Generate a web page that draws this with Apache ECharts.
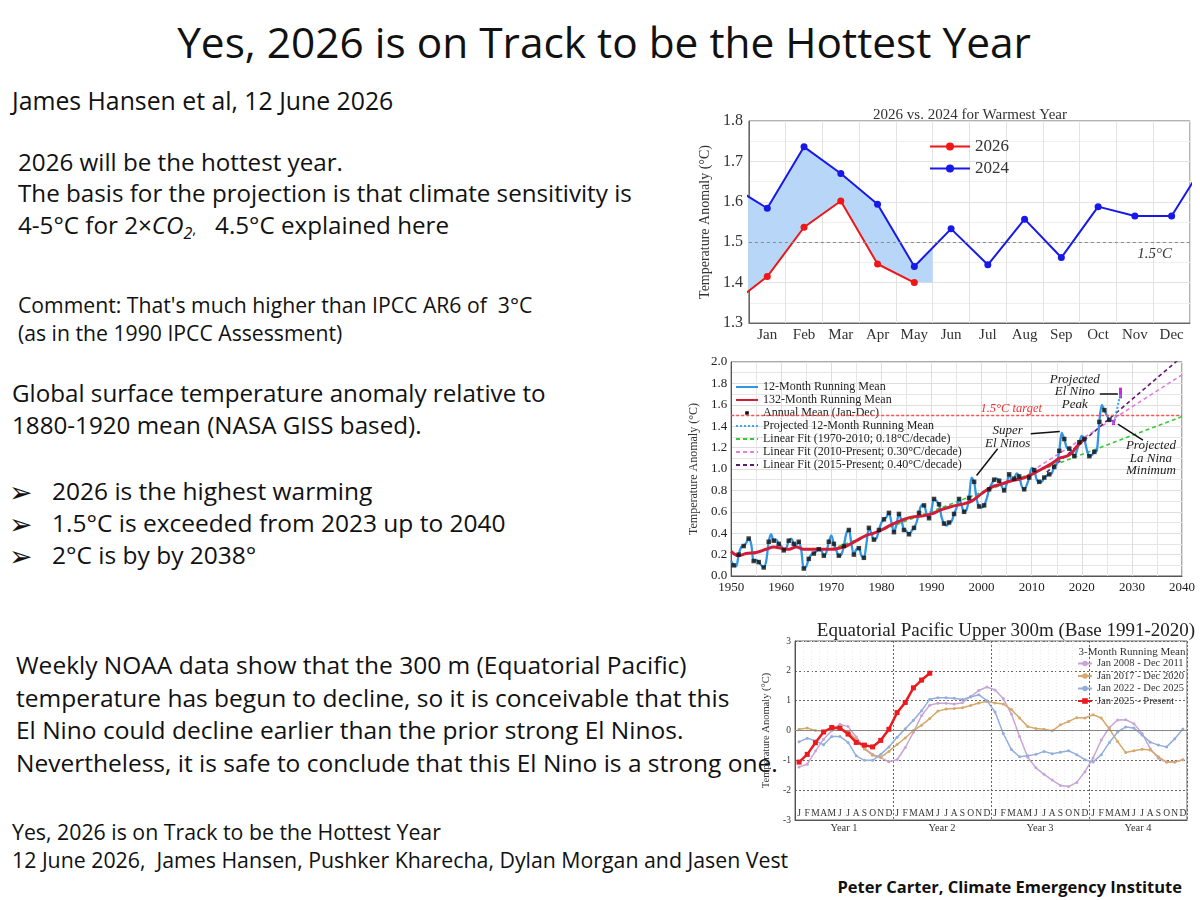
<!DOCTYPE html>
<html>
<head>
<meta charset="utf-8">
<title>Yes, 2026 is on Track to be the Hottest Year</title>
<script src="https://cdn.jsdelivr.net/npm/echarts@6/dist/echarts.min.js"></script>
<style>
  html, body { margin: 0; padding: 0; background: #fff; }
  #slide { position: relative; width: 1200px; height: 900px; overflow: hidden;
           font-family: 'Open Sans', 'Noto Sans', sans-serif; color: #111; }
  .t { position: absolute; white-space: nowrap; line-height: 1; transform: translateY(-50%); }
  .chart { position: absolute; }
</style>
</head>
<body>
<div id="slide">
  <div class="t" style="left:0;width:1208px;text-align:center;top:42px;font-size:42.4px;">Yes, 2026 is on Track to be the Hottest Year</div>
  <div class="t" style="left:12px;top:100px;font-size:24.8px;">James Hansen et al, 12 June 2026</div>

  <div class="t" style="left:18px;top:162px;font-size:24.2px;">2026 will be the hottest year.</div>
  <div class="t" style="left:18px;top:193px;font-size:24.2px;">The basis for the projection is that climate sensitivity is</div>
  <div class="t" style="left:18px;top:227px;font-size:24.2px;">4-5°C for 2×<i>CO<sub style="font-size:16px;">2</sub></i><span style="font-size:15px;">,</span>&nbsp;&nbsp;&nbsp;4.5°C explained here</div>

  <div class="t" style="left:18px;top:305px;font-size:21.2px;">Comment: That's much higher than IPCC AR6 of &nbsp;3°C</div>
  <div class="t" style="left:18px;top:333px;font-size:21.2px;">(as in the 1990 IPCC Assessment)</div>

  <div class="t" style="left:12px;top:393px;font-size:24.2px;">Global surface temperature anomaly relative to</div>
  <div class="t" style="left:12px;top:425px;font-size:24.2px;">1880-1920 mean (NASA GISS based).</div>

  <div class="t" style="left:9px;top:491px;font-size:28px;">➢</div>
  <div class="t" style="left:52px;top:491px;font-size:24.5px;">2026 is the highest warming</div>
  <div class="t" style="left:9px;top:523px;font-size:28px;">➢</div>
  <div class="t" style="left:52px;top:523px;font-size:24.5px;">1.5°C is exceeded from 2023 up to 2040</div>
  <div class="t" style="left:9px;top:555px;font-size:28px;">➢</div>
  <div class="t" style="left:52px;top:555px;font-size:24.5px;">2°C is by by 2038°</div>

  <div class="t" style="left:16px;top:665px;font-size:24.5px;">Weekly NOAA data show that the 300 m (Equatorial Pacific)</div>
  <div class="t" style="left:16px;top:698px;font-size:24.5px;">temperature has begun to decline, so it is conceivable that this</div>
  <div class="t" style="left:16px;top:730px;font-size:24.5px;">El Nino could decline earlier than the prior strong El Ninos.</div>
  <div class="t" style="left:16px;top:763px;font-size:24.5px;">Nevertheless, it is safe to conclude that this El Nino is a strong one.</div>

  <div class="t" style="left:12px;top:832px;font-size:21.3px;">Yes, 2026 is on Track to be the Hottest Year</div>
  <div class="t" style="left:12px;top:860px;font-size:21.3px;">12 June 2026, &nbsp;James Hansen, Pushker Kharecha, Dylan Morgan and Jasen Vest</div>
  <div class="t" style="right:18px;top:887px;font-size:16.5px;font-weight:bold;">Peter Carter, Climate Emergency Institute</div>

  <div id="chartA" class="chart" style="left:690px;top:100px;width:510px;height:245px;"></div>
  <div id="chartB" class="chart" style="left:680px;top:352px;width:520px;height:250px;"></div>
  <div id="chartC" class="chart" style="left:750px;top:608px;width:450px;height:272px;"></div>
</div>

<script>
// ---- chart A: 2026 vs 2024, monthly anomaly (index 0 = Dec of prior year, 13 = Jan of next year)
var topMonths = ['Jan', 'Feb', 'Mar', 'Apr', 'May', 'Jun', 'Jul', 'Aug', 'Sep', 'Oct', 'Nov', 'Dec'];
var y2024 = [1.64, 1.584, 1.736, 1.670, 1.594, 1.440, 1.533, 1.444, 1.557, 1.462, 1.588, 1.565, 1.565, 1.71];
var y2026 = [1.345, 1.415, 1.537, 1.602, 1.446, 1.400];
// shaded gap between the two years
var gapX = [0, 1, 2, 3, 4, 5, 5.5];
var gapTop = [1.64, 1.584, 1.736, 1.670, 1.594, 1.440, 1.487];
var gapBase = [1.345, 1.415, 1.537, 1.602, 1.446, 1.400, 1.400];

// ---- chart B: GISS based global temperature
var run12 = [
  [1950.0,0.14],[1950.5,0.10],[1951.0,0.09],[1951.5,0.20],[1952.0,0.27],[1952.5,0.28],[1953.0,0.31],[1953.5,0.35],
  [1954.0,0.30],[1954.5,0.14],[1955.0,0.15],[1955.5,0.13],[1956.0,0.10],[1956.5,0.08],[1957.0,0.14],[1957.5,0.32],
  [1958.0,0.39],[1958.5,0.33],[1959.0,0.34],[1959.5,0.30],[1960.0,0.28],[1960.5,0.24],[1961.0,0.26],[1961.5,0.33],
  [1962.0,0.35],[1962.5,0.30],[1963.0,0.29],[1963.5,0.32],[1964.0,0.24],[1964.5,0.07],[1965.0,0.09],[1965.5,0.16],
  [1966.0,0.20],[1966.5,0.21],[1967.0,0.23],[1967.5,0.25],[1968.0,0.24],[1968.5,0.19],[1969.0,0.22],[1969.5,0.32],
  [1970.0,0.38],[1970.5,0.30],[1971.0,0.24],[1971.5,0.19],[1972.0,0.20],[1972.5,0.28],[1973.0,0.40],[1973.5,0.43],
  [1974.0,0.30],[1974.5,0.20],[1975.0,0.25],[1975.5,0.26],[1976.0,0.19],[1976.5,0.17],[1977.0,0.30],[1977.5,0.45],
  [1978.0,0.40],[1978.5,0.34],[1979.0,0.35],[1979.5,0.43],[1980.0,0.50],[1980.5,0.53],[1981.0,0.55],[1981.5,0.59],
  [1982.0,0.50],[1982.5,0.41],[1983.0,0.48],[1983.5,0.58],[1984.0,0.52],[1984.5,0.43],[1985.0,0.42],[1985.5,0.39],
  [1986.0,0.42],[1986.5,0.45],[1987.0,0.50],[1987.5,0.59],[1988.0,0.66],[1988.5,0.66],[1989.0,0.58],[1989.5,0.54],
  [1990.0,0.62],[1990.5,0.72],[1991.0,0.70],[1991.5,0.67],[1992.0,0.55],[1992.5,0.49],[1993.0,0.47],[1993.5,0.50],
  [1994.0,0.51],[1994.5,0.58],[1995.0,0.64],[1995.5,0.72],[1996.0,0.66],[1996.5,0.60],[1997.0,0.62],[1997.5,0.73],
  [1998.0,0.92],[1998.5,0.88],[1999.0,0.72],[1999.5,0.65],[2000.0,0.64],[2000.5,0.66],[2001.0,0.72],[2001.5,0.81],
  [2002.0,0.86],[2002.5,0.90],[2003.0,0.91],[2003.5,0.89],[2004.0,0.84],[2004.5,0.80],[2005.0,0.86],[2005.5,0.95],
  [2006.0,0.90],[2006.5,0.91],[2007.0,0.96],[2007.5,0.93],[2008.0,0.84],[2008.5,0.81],[2009.0,0.85],[2009.5,0.92],
  [2010.0,1.01],[2010.5,0.99],[2011.0,0.90],[2011.5,0.88],[2012.0,0.88],[2012.5,0.92],[2013.0,0.94],[2013.5,0.95],
  [2014.0,0.96],[2014.5,1.02],[2015.0,1.05],[2015.5,1.17],[2016.0,1.34],[2016.5,1.28],[2017.0,1.20],[2017.5,1.19],
  [2018.0,1.16],[2018.5,1.12],[2019.0,1.17],[2019.5,1.25],[2020.0,1.31],[2020.5,1.28],[2021.0,1.18],[2021.5,1.12],
  [2022.0,1.13],[2022.5,1.16],[2023.0,1.17],[2023.5,1.44],[2024.0,1.60],[2024.5,1.55],[2025.0,1.50],[2025.5,1.46]
];
var run132 = [
  [1950,0.23],[1951.5,0.19],[1953,0.21],[1955,0.22],[1957,0.25],[1958.5,0.27],[1960,0.26],[1961.5,0.25],
  [1963,0.27],[1964.5,0.25],[1966,0.25],[1968,0.25],[1970,0.25],[1971.5,0.26],[1973,0.28],[1975,0.33],
  [1977,0.38],[1978.5,0.40],[1980,0.43],[1982,0.48],[1984,0.52],[1986,0.55],[1988,0.56],[1990,0.58],
  [1992,0.62],[1994,0.65],[1996,0.67],[1998,0.70],[2000,0.77],[2002,0.83],[2004,0.86],[2006,0.89],
  [2008,0.91],[2010,0.95],[2012,1.00],[2014,1.05],[2015.5,1.10],[2017,1.12],[2018,1.15],[2019,1.21],[2020.5,1.28]
];
var annualFirstYear = 1950;
var annualMean = [
  0.10,0.20,0.28,0.35,0.14,0.13,0.08,0.32,0.33,0.30,
  0.24,0.33,0.30,0.32,0.07,0.16,0.21,0.25,0.19,0.32,
  0.30,0.19,0.28,0.43,0.20,0.26,0.17,0.45,0.34,0.43,
  0.53,0.59,0.41,0.58,0.43,0.39,0.45,0.59,0.66,0.54,
  0.72,0.67,0.49,0.50,0.58,0.72,0.60,0.73,0.88,0.65,
  0.66,0.81,0.90,0.89,0.80,0.95,0.91,0.93,0.81,0.92,
  0.99,0.88,0.92,0.95,1.02,1.17,1.28,1.19,1.12,1.25,
  1.28,1.12,1.16,1.44,1.55,1.46
];
var projRun = [[2025.5,1.46],[2026.3,1.43],[2026.9,1.53],[2027.3,1.62],[2027.7,1.70]];
var fit1970 = [[1970,0.25],[2040,1.49]];
var fit2010 = [[2010,0.98],[2040,1.88]];
var fit2015 = [[2013,0.97],[2040,2.05]];
var elNinoPeak = [[2027.7,1.66],[2027.7,1.76]];
var laNinaMin = [[2026.3,1.41],[2026.3,1.46]];

// ---- chart C: equatorial Pacific upper 300 m, 48 months (4 years)
var monthLetters = ['J','F','M','A','M','J','J','A','S','O','N','D'];
var yearNames = ['Year 1', 'Year 2', 'Year 3', 'Year 4'];
var pac2008 = [-1.22,-1.13,-0.69,-0.29,-0.01,0.21,0.13,-0.22,-0.59,-0.80,-0.91,-1.05,
               -0.98,-0.57,-0.06,0.50,0.85,0.91,0.91,0.89,0.93,1.14,1.34,1.46,
               1.36,1.07,0.55,-0.20,-0.90,-1.25,-1.47,-1.66,-1.84,-1.88,-1.74,-1.38,
               -0.92,-0.32,0.10,0.35,0.36,0.23,-0.10,-0.61,-0.93,-1.06,-1.06,-0.98];
var pac2017 = [0.04,0.08,0.00,-0.02,0.04,0.07,-0.04,-0.30,-0.62,-0.83,-0.90,-0.70,
               -0.47,-0.25,0.00,0.18,0.40,0.65,0.72,0.74,0.76,0.84,0.92,0.97,
               0.92,0.89,0.70,0.42,0.13,0.07,0.04,-0.01,0.19,0.30,0.43,0.42,
               0.53,0.42,0.05,-0.37,-0.74,-0.68,-0.63,-0.65,-0.88,-1.06,-1.06,-0.98];
var pac2022 = [-0.38,-0.26,-0.34,-0.48,-0.20,-0.20,-0.40,-0.85,-1.00,-1.00,-0.80,-0.55,
               -0.23,0.06,0.34,0.66,1.05,1.10,1.10,1.08,1.04,1.12,1.20,1.00,
               0.62,-0.10,-0.64,-0.88,-0.85,-0.80,-0.70,-0.78,-0.73,-0.68,-0.81,-0.98,
               -1.06,-0.81,-0.40,-0.05,0.12,0.08,-0.15,-0.39,-0.49,-0.55,-0.28,0.05];
var pac2025 = [-1.06,-0.80,-0.41,-0.05,0.10,0.08,-0.12,-0.40,-0.49,-0.55,-0.33,0.04,
               0.60,0.94,1.43,1.69,1.92];

var serif = "'Liberation Serif', 'Times New Roman', 'DejaVu Serif', serif";

// ================= chart A =================
function renderGap(params, api) {
  var pts = [];
  for (var i = 0; i < gapX.length; i++) pts.push(api.coord([gapX[i], gapTop[i]]));
  for (var j = gapX.length - 1; j >= 0; j--) pts.push(api.coord([gapX[j], gapBase[j]]));
  return { type: 'polygon', shape: { points: pts }, style: { fill: '#b8d7f8' } };
}

var chartA = echarts.init(document.getElementById('chartA'));
chartA.setOption({
  animation: false,
  title: {
    text: '2026 vs. 2024 for Warmest Year', left: 275, textAlign: 'center', top: 3,
    textStyle: { fontFamily: serif, fontSize: 15, fontWeight: 'normal', color: '#333' }
  },
  legend: {
    data: ['2026', '2024'], orient: 'vertical', left: 234, top: 33,
    itemWidth: 40, itemHeight: 10, itemGap: 5,
    textStyle: { fontFamily: serif, fontSize: 17, color: '#333' }
  },
  grid: { left: 51, right: 10, top: 21, bottom: 22, show: true, borderColor: '#666', borderWidth: 1 },
  xAxis: [
    {
      type: 'category', data: topMonths, boundaryGap: true,
      axisLine: { lineStyle: { color: '#666' } }, axisTick: { show: false },
      axisLabel: { fontFamily: serif, fontSize: 15, color: '#333', margin: 5 },
      splitLine: { show: true, lineStyle: { color: '#e3e3e3' } }
    },
    { type: 'value', min: 0.5, max: 12.5, show: false }
  ],
  yAxis: {
    type: 'value', min: 1.3, max: 1.8, interval: 0.1,
    name: 'Temperature Anomaly (°C)', nameLocation: 'middle', nameGap: 34,
    nameTextStyle: { fontFamily: serif, fontSize: 14, color: '#333' },
    axisLine: { show: true, lineStyle: { color: '#666' } }, axisTick: { show: false },
    axisLabel: { fontFamily: serif, fontSize: 16, color: '#333', margin: 6,
                 formatter: function (v) { return v.toFixed(1); } },
    splitLine: { lineStyle: { color: '#e3e3e3' } },
    minorTick: { show: false, splitNumber: 2 },
    minorSplitLine: { show: true, lineStyle: { color: '#efefef' } }
  },
  series: [
    { type: 'custom', xAxisIndex: 1, renderItem: renderGap, data: [[1, 1.5]], clip: true, silent: true, z: 1 },
    {
      name: '2026', type: 'line', xAxisIndex: 1, color: '#ee1616',
      data: y2026.map(function (v, i) { return [i, v]; }),
      symbol: 'circle', symbolSize: 7, lineStyle: { width: 2 }, clip: true, z: 4
    },
    {
      name: '2024', type: 'line', xAxisIndex: 1, color: '#1818e8',
      data: y2024.map(function (v, i) { return [i, v]; }),
      symbol: 'circle', symbolSize: 7, lineStyle: { width: 2 }, clip: true, z: 3,
      markLine: {
        silent: true, symbol: 'none',
        lineStyle: { color: '#888', type: [3, 3], width: 1 },
        label: { formatter: '1.5°C', position: 'insideEndBottom', fontFamily: serif, fontStyle: 'italic',
                 fontSize: 15, color: '#333', distance: [18, 4] },
        data: [{ yAxis: 1.5 }]
      }
    }
  ]
});

// ================= chart B =================
var squareIcon = 'path://M0,0L0.1,0L0.1,0.1Z M19.9,9.9L20,9.9L20,10Z M8,3H12V7H8Z';
var chartB = echarts.init(document.getElementById('chartB'));
chartB.setOption({
  animation: false,
  legend: {
    orient: 'vertical', left: 50, top: 24, itemWidth: 22, itemHeight: 9, itemGap: 1,
    itemStyle: { opacity: 0 },
    textStyle: { fontFamily: serif, fontSize: 12, color: '#222', lineHeight: 12 },
    data: [
      '12-Month Running Mean', '132-Month Running Mean',
      { name: 'Annual Mean (Jan-Dec)', icon: squareIcon, itemStyle: { opacity: 1 } },
      'Projected 12-Month Running Mean',
      'Linear Fit (1970-2010; 0.18°C/decade)',
      'Linear Fit (2010-Present; 0.30°C/decade)',
      'Linear Fit (2015-Present; 0.40°C/decade)'
    ]
  },
  grid: { left: 40, right: 18, top: 10, bottom: 26, show: true, borderColor: '#555', borderWidth: 1 },
  xAxis: {
    type: 'value', min: 1950, max: 2040, interval: 10,
    axisLine: { lineStyle: { color: '#555' } }, axisTick: { show: false },
    axisLabel: { fontFamily: serif, fontSize: 13, color: '#222', margin: 5,
                 formatter: function (v) { return String(v); } },
    splitLine: { lineStyle: { color: '#dedede' } },
    minorTick: { show: false, splitNumber: 2 },
    minorSplitLine: { show: true, lineStyle: { color: '#e6e6e6' } }
  },
  yAxis: {
    type: 'value', min: 0, max: 2, interval: 0.2,
    name: 'Temperature Anomaly (°C)', nameLocation: 'middle', nameGap: 27,
    nameTextStyle: { fontFamily: serif, fontSize: 12, color: '#333' },
    axisLine: { show: true, lineStyle: { color: '#555' } }, axisTick: { show: false },
    axisLabel: { fontFamily: serif, fontSize: 13, color: '#222', margin: 4,
                 formatter: function (v) { return v.toFixed(1); } },
    splitLine: { lineStyle: { color: '#dedede' } },
    minorTick: { show: false, splitNumber: 2 },
    minorSplitLine: { show: true, lineStyle: { color: '#e6e6e6' } }
  },
  series: [
    {
      name: 'Linear Fit (1970-2010; 0.18°C/decade)', type: 'line', data: fit1970, color: '#33cc33',
      symbol: 'none', lineStyle: { width: 1.6, type: [4, 3] }, z: 2
    },
    {
      name: 'Linear Fit (2010-Present; 0.30°C/decade)', type: 'line', data: fit2010, color: '#e07fe0',
      symbol: 'none', lineStyle: { width: 1.6, type: [4, 3] }, z: 2
    },
    {
      name: 'Linear Fit (2015-Present; 0.40°C/decade)', type: 'line', data: fit2015, color: '#5e1a72',
      symbol: 'none', lineStyle: { width: 1.6, type: [4, 3] }, z: 2
    },
    {
      name: '12-Month Running Mean', type: 'line', data: run12, color: '#3096e6',
      symbol: 'none', smooth: 0.3, lineStyle: { width: 2.3 }, z: 3,
      markLine: {
        silent: true, symbol: 'none', label: { show: false },
        lineStyle: { color: '#ff5050', type: [3, 2], width: 1.3 },
        data: [{ yAxis: 1.5 }]
      }
    },
    {
      name: '132-Month Running Mean', type: 'line', data: run132, color: '#d21c3a',
      symbol: 'none', smooth: 0.4, lineStyle: { width: 3 }, z: 4,
      markLine: {
        silent: true, symbol: ['none', 'arrow'], symbolSize: [0, 9], label: { show: false },
        lineStyle: { color: '#111', type: 'solid', width: 1.5 },
        data: [
          [{ coord: [2023.6, 1.70] }, { coord: [2027.2, 1.70] }],
          [{ coord: [2009.8, 1.33] }, { coord: [2015.6, 1.35] }],
          [{ coord: [2003.2, 1.19] }, { coord: [1999.0, 0.94] }],
          [{ coord: [2032.2, 1.27] }, { coord: [2027.2, 1.42] }]
        ]
      },
      markPoint: {
        silent: true, symbol: 'circle', symbolSize: 1, itemStyle: { color: 'rgba(0,0,0,0)' },
        label: { show: true, position: 'inside', fontFamily: serif, fontStyle: 'italic',
                 fontSize: 13, lineHeight: 12.5, color: '#222' },
        data: [
          { coord: [2018.6, 1.72], label: { formatter: 'Projected\nEl Nino\nPeak' } },
          { coord: [2005.2, 1.30], label: { formatter: 'Super\nEl Ninos' } },
          { coord: [2033.8, 1.10], label: { formatter: 'Projected\nLa Nina\nMinimum' } },
          { coord: [2005.9, 1.56], label: { formatter: '1.5°C target', color: '#ee3333', fontSize: 12.5 } }
        ]
      }
    },
    {
      name: 'Annual Mean (Jan-Dec)', type: 'scatter', color: '#111',
      data: annualMean.map(function (v, i) { return [annualFirstYear + i + 0.5, v]; }),
      symbol: 'rect', symbolSize: 4.5, z: 5
    },
    {
      name: 'Projected 12-Month Running Mean', type: 'line', data: projRun, color: '#3aa6ee',
      symbol: 'none', smooth: 0.3, lineStyle: { width: 2, type: [2, 2] }, z: 5,
      markLine: {
        silent: true, symbol: 'none', label: { show: false },
        lineStyle: { color: '#e020e0', type: 'solid', width: 3 },
        data: [
          [{ coord: elNinoPeak[0] }, { coord: elNinoPeak[1] }],
          [{ coord: laNinaMin[0] }, { coord: laNinaMin[1] }]
        ]
      }
    }
  ]
});

// ================= chart C =================
var monthCats = [];
for (var k = 0; k < 48; k++) monthCats.push(String(k));

var chartC = echarts.init(document.getElementById('chartC'));
chartC.setOption({
  animation: false,
  title: [
    {
      text: 'Equatorial Pacific Upper 300m (Base 1991-2020)', left: 251, textAlign: 'center', top: 9,
      textStyle: { fontFamily: serif, fontSize: 19, fontWeight: 'normal', color: '#222' }
    },
    {
      text: '3-Month Running Mean', left: 377, textAlign: 'center', top: 34,
      textStyle: { fontFamily: serif, fontSize: 11, fontWeight: 'normal', color: '#333' }
    }
  ],
  legend: {
    data: ['Jan 2008 - Dec 2011', 'Jan 2017 - Dec 2020', 'Jan 2022 - Dec 2025', 'Jan 2025 - Present'],
    orient: 'vertical', left: 322, top: 45, itemWidth: 14, itemHeight: 7, itemGap: 1.5,
    textStyle: { fontFamily: serif, fontSize: 10.5, color: '#333', lineHeight: 10 }
  },
  grid: { left: 45, right: 13, top: 33, bottom: 60, show: true, borderColor: '#666', borderWidth: 1 },
  xAxis: [
    {
      type: 'category', data: monthCats, boundaryGap: true, position: 'bottom',
      axisLine: { onZero: false, lineStyle: { color: '#555' } }, axisTick: { show: false },
      axisLabel: { inside: true, interval: 0, margin: 2, fontFamily: serif, fontSize: 9.5, color: '#333',
                   formatter: function (v) { return monthLetters[Number(v) % 12]; } },
      splitLine: { show: true, interval: 0, lineStyle: { color: '#ececec', type: [1, 2] } }
    },
    {
      type: 'category', data: yearNames, boundaryGap: true, position: 'bottom',
      axisLine: { show: false, onZero: false }, axisTick: { show: false },
      axisLabel: { margin: 3, fontFamily: serif, fontSize: 10.5, color: '#333' },
      splitLine: { show: true, lineStyle: { color: '#666', type: [2, 2] } }
    }
  ],
  yAxis: {
    type: 'value', min: -3, max: 3, interval: 1,
    name: 'Temperature Anomaly (°C)', nameLocation: 'middle', nameGap: 14,
    nameTextStyle: { fontFamily: serif, fontSize: 10.5, color: '#333' },
    axisLine: { show: true, lineStyle: { color: '#555' } }, axisTick: { show: false },
    axisLabel: { fontFamily: serif, fontSize: 9.5, color: '#333', margin: 4 },
    splitLine: { lineStyle: { color: '#666', type: [2, 2] } }
  },
  series: [
    {
      name: 'Jan 2008 - Dec 2011', type: 'line', data: pac2008, color: '#c9a5d6',
      symbol: 'circle', symbolSize: 3, lineStyle: { width: 1.5 }, z: 2,
      markLine: {
        silent: true, symbol: 'none', label: { show: false },
        lineStyle: { color: '#888', type: 'solid', width: 1.2 },
        data: [{ yAxis: 0 }]
      }
    },
    {
      name: 'Jan 2017 - Dec 2020', type: 'line', data: pac2017, color: '#d5a96c',
      symbol: 'circle', symbolSize: 3, lineStyle: { width: 1.5 }, z: 3
    },
    {
      name: 'Jan 2022 - Dec 2025', type: 'line', data: pac2022, color: '#94aedc',
      symbol: 'circle', symbolSize: 3, lineStyle: { width: 1.5 }, z: 3
    },
    {
      name: 'Jan 2025 - Present', type: 'line', data: pac2025, color: '#ea1a1f',
      symbol: 'rect', symbolSize: 5, lineStyle: { width: 2.5 }, z: 5
    }
  ]
});
</script>
</body>
</html>
